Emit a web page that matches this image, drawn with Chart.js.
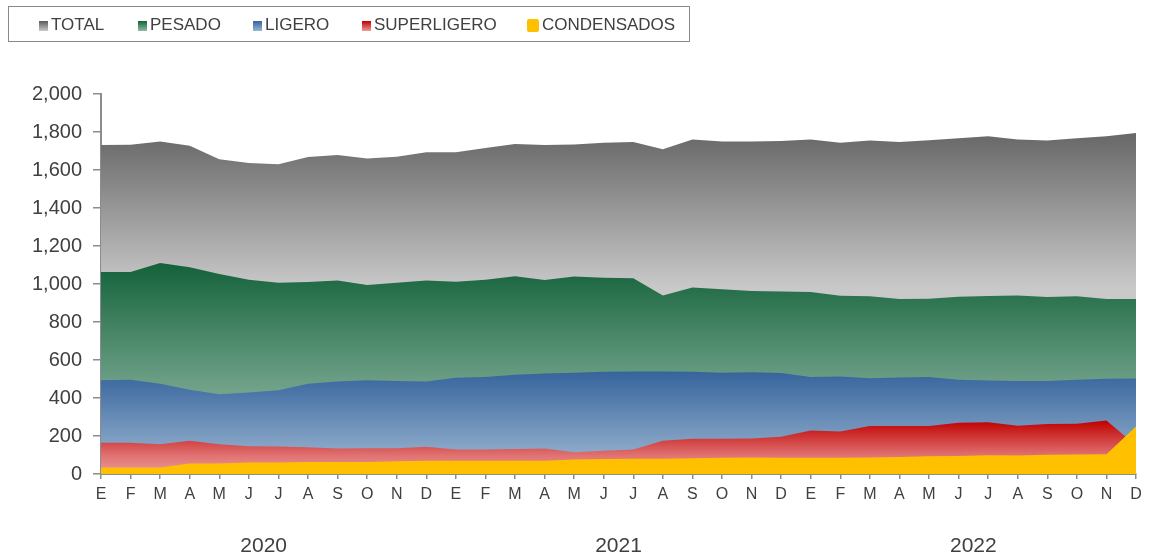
<!DOCTYPE html>
<html>
<head>
<meta charset="utf-8">
<script src="https://cdn.jsdelivr.net/npm/chart.js@4"></script>
<style>
  html, body { margin: 0; padding: 0; background: #ffffff; }
  #wrap { position: relative; width: 1149px; height: 560px; font-family: "Liberation Sans", Arial, sans-serif; }
  #c { position: absolute; left: 0; top: 0; }
  #legend { position: absolute; left: 8px; top: 6px; width: 682px; height: 36px; border: 1px solid #8a8a8a; box-sizing: border-box; }
  .mk { position: absolute; top: 14px; width: 9px; height: 10px; }
  .tx { position: absolute; top: 8px; font-size: 17px; color: #404040; line-height: 20px; white-space: nowrap; }
</style>
</head>
<body>
<div id="wrap">
  <canvas id="c" width="1149" height="560"></canvas>
  <div id="legend"></div>
</div>
<script>
const months = ["E","F","M","A","M","J","J","A","S","O","N","D",
                "E","F","M","A","M","J","J","A","S","O","N","D",
                "E","F","M","A","M","J","J","A","S","O","N","D"];
const years = ["2020","2021","2022"];
const seriesNames = ["TOTAL","PESADO","LIGERO","SUPERLIGERO","CONDENSADOS"];

const total = [1732,1733,1750,1727,1656,1637,1630,1668,1679,1661,1670,1693,
               1693,1716,1737,1732,1734,1744,1748,1709,1760,1750,1750,1752,
               1760,1743,1755,1748,1757,1767,1778,1760,1755,1767,1778,1795];
const pesado = [1063,1063,1110,1088,1053,1023,1007,1011,1018,995,1007,1018,
                1012,1023,1041,1021,1039,1033,1030,940,982,972,963,961,
                958,938,935,921,922,933,937,940,931,935,921,921];
const ligero = [494,496,475,443,420,429,441,475,487,494,489,487,
                506,510,522,529,533,538,540,540,538,533,536,531,
                510,513,504,508,510,496,492,490,489,496,501,503];
const superligero = [164,164,157,175,157,146,145,141,134,135,135,143,
                     129,129,131,134,115,122,129,175,185,185,187,196,
                     229,224,252,252,252,270,273,254,263,265,282,150];
const condensados = [34,34,34,55,55,60,60,63,63,63,67,70,
                     70,70,70,70,76,79,80,80,83,86,87,86,
                     86,86,87,90,93,95,99,97,101,102,104,250];

const yTicks = [0,200,400,600,800,1000,1200,1400,1600,1800,2000];

// styling
const gradStops = {
  TOTAL: [[0,"#676767"],[0.45,"#c8c8c8"],[1,"#dedede"]],
  PESADO: [[0,"#13623a"],[0.56,"#6b9e85"],[1,"#a9c7b6"]],
  LIGERO: [[0,"#35649c"],[0.73,"#86a4c6"],[1,"#a6bcd6"]],
  SUPERLIGERO: [[0,"#c00000"],[0.66,"#e07373"],[1,"#ec9a9a"]],
  CONDENSADOS: null
};
const solid = { CONDENSADOS: "#ffc000" };

function makeBg(name, data) {
  return function(ctx) {
    const chart = ctx.chart;
    const area = chart.chartArea;
    if (!area) return "#999";
    if (!gradStops[name]) return solid[name];
    const y = chart.scales.y;
    const top = y.getPixelForValue(Math.max(...data));
    const bottom = y.getPixelForValue(0);
    const g = chart.ctx.createLinearGradient(0, top, 0, bottom);
    gradStops[name].forEach(s => g.addColorStop(s[0], s[1]));
    return g;
  };
}

const allData = [total, pesado, ligero, superligero, condensados];
const datasets = seriesNames.map((name, i) => ({
  label: name,
  data: allData[i],
  xAxisID: "x",
  yAxisID: "y",
  fill: "origin",
  backgroundColor: makeBg(name, allData[i]),
  borderWidth: 0,
  pointRadius: 0,
  tension: 0,
  order: seriesNames.length - i
}));

// HTML legend
const legendPos = [[30,42],[129,141],[244,256],[353,365],[520,533]];
const legendMarkers = {
  TOTAL: "linear-gradient(#5a5a5a,#c8c8c8)",
  PESADO: "linear-gradient(#13623a,#8fbba3)",
  LIGERO: "linear-gradient(#35649c,#9ab4d4)",
  SUPERLIGERO: "linear-gradient(#c00000,#ec9a9a)",
  CONDENSADOS: "#ffc000"
};
const lg = document.getElementById("legend");
seriesNames.forEach((name, i) => {
  const m = document.createElement("div");
  m.className = "mk";
  m.style.left = legendPos[i][0] + "px";
  m.style.background = legendMarkers[name];
  if (name === "CONDENSADOS") { m.style.width = "12px"; m.style.height = "13px"; m.style.top = "12px"; m.style.borderRadius = "2px"; m.style.left = (legendPos[i][0]-2) + "px"; }
  lg.appendChild(m);
  const t = document.createElement("div");
  t.className = "tx";
  t.style.left = legendPos[i][1] + "px";
  t.textContent = name;
  lg.appendChild(t);
});

const yearCenters = years.map((_, i) => i * 12 + 5.5);

new Chart(document.getElementById("c"), {
  type: "line",
  data: { labels: months, datasets: datasets },
  options: {
    responsive: false,
    animation: false,
    layout: { padding: { top: 94, right: 13, bottom: 0, left: 0 } },
    plugins: { legend: { display: false }, tooltip: { enabled: false } },
    elements: { line: { borderWidth: 0 } },
    scales: {
      x: {
        type: "category",
        offset: false,
        position: "bottom",
        grid: { display: true, drawOnChartArea: false, drawTicks: true, tickLength: 5, color: "#8c8c8c", lineWidth: 1.5 },
        border: { display: true, color: "#8c8c8c", width: 2 },
        ticks: { autoSkip: false, maxRotation: 0, minRotation: 0, padding: 6, color: "#404040",
                 font: { family: "'Liberation Sans', Arial, sans-serif", size: 16 } },
        afterFit: (s) => { s.height = 30; }
      },
      x2: {
        type: "linear",
        position: "bottom",
        min: 0,
        max: months.length - 1,
        grid: { display: false },
        border: { display: false },
        afterBuildTicks: (axis) => { axis.ticks = yearCenters.map(v => ({ value: v })); },
        ticks: {
          padding: 22, color: "#404040", maxRotation: 0, autoSkip: false,
          font: { family: "'Liberation Sans', Arial, sans-serif", size: 21 },
          callback: (v) => { const idx = yearCenters.indexOf(v); return idx >= 0 ? years[idx] : ""; }
        },
        afterFit: (s) => { s.height = 56; }
      },
      y: {
        type: "linear",
        min: 0,
        max: 2000,
        afterBuildTicks: (axis) => { axis.ticks = yTicks.map(v => ({ value: v })); },
        grid: { display: true, drawOnChartArea: false, drawTicks: true, tickLength: 8, color: "#8c8c8c", lineWidth: 1.5 },
        border: { display: true, color: "#8c8c8c", width: 2 },
        ticks: {
          padding: 11, color: "#404040",
          font: { family: "'Liberation Sans', Arial, sans-serif", size: 20 },
          callback: (v) => v.toLocaleString("en-US")
        },
        afterFit: (s) => { s.width = 101; }
      }
    }
  }
});
</script>
</body>
</html>
